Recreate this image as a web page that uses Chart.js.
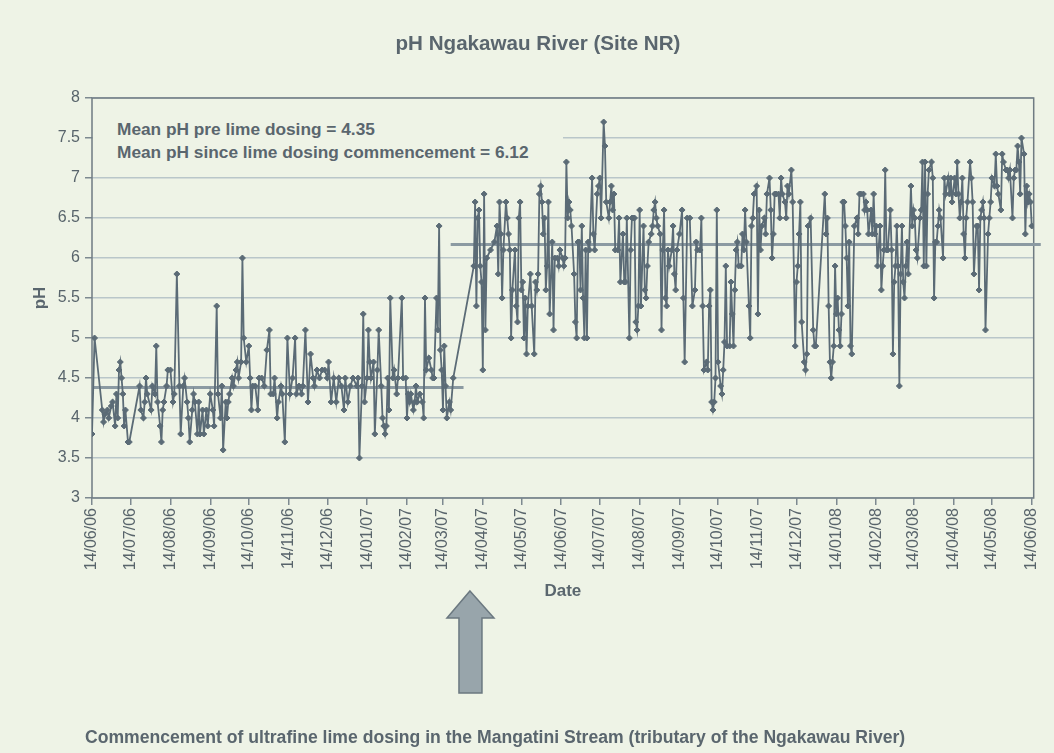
<!DOCTYPE html>
<html>
<head>
<meta charset="utf-8">
<title>pH Ngakawau River (Site NR)</title>
<script src="https://cdn.jsdelivr.net/npm/chart.js@4.4.0/dist/chart.umd.min.js"></script>
<style>
    html, body { margin: 0; padding: 0; background: #eef3e6; }
    #wrap { position: relative; width: 1054px; height: 753px; font-family: "Liberation Sans", Arial, sans-serif; color: #5a666e; }
    #chartBox { position: absolute; left: 0; top: 0; width: 1054px; height: 753px; }
    .title { position: absolute; left: 0; width: 1076px; top: 31px; text-align: center; font-weight: bold; font-size: 20.6px; }
    .means { position: absolute; left: 93px; top: 118px; width: 470px; height: 47px; background: #eef3e6; font-weight: bold; font-size: 17.3px; line-height: 23px; padding-left: 24px; box-sizing: border-box; }
    .caption { position: absolute; left: 85px; top: 727px; font-weight: bold; font-size: 17.6px; }
</style>
</head>
<body>
<div id="wrap">
    <div id="chartBox"><canvas id="phChart"></canvas></div>
    <div class="title">pH Ngakawau River (Site NR)</div>
    <div class="means">Mean pH pre lime dosing = 4.35<br>Mean pH since lime dosing commencement = 6.12</div>
    <div class="caption">Commencement of ultrafine lime dosing in the Mangatini Stream (tributary of the Ngakawau River)</div>
</div>
<script>
// x axis labels (monthly)
const tickLabels = [
    "14/06/06", "14/07/06", "14/08/06", "14/09/06", "14/10/06", "14/11/06", "14/12/06",
    "14/01/07", "14/02/07", "14/03/07", "14/04/07", "14/05/07", "14/06/07", "14/07/07",
    "14/08/07", "14/09/07", "14/10/07", "14/11/07", "14/12/07", "14/01/08", "14/02/08",
    "14/03/08", "14/04/08", "14/05/08", "14/06/08"
];

// sample days (days since 14/06/06) and pH readings, pre lime dosing
const preDays = [
    0, 2, 8, 9, 10, 12, 13, 15, 16, 18,
    19, 20, 21, 22, 23, 24, 25, 26, 28, 29,
    37, 38, 40, 41, 42, 43, 46, 47, 49, 50,
    51, 53, 54, 55, 56, 58, 59, 61, 63, 64,
    66, 68, 69, 71, 72, 74, 75, 76, 78, 79,
    80, 82, 83, 84, 86, 87, 89, 90, 92, 94,
    95, 97, 98, 100, 101, 102, 104, 105, 106, 107,
    109, 110, 112, 113, 114, 116, 117, 118, 120, 122,
    123, 124, 125, 127, 129, 130, 132, 134, 136, 138,
    139, 141, 142, 144, 145, 147, 148, 150, 152, 154,
    156, 158, 159, 161, 163, 164, 166, 168, 170, 172,
    173, 175, 177, 179, 181, 183, 184, 186, 188, 190,
    192, 194, 196, 197, 199, 201, 203, 206, 207, 208,
    210, 211, 212, 214, 215, 216, 217, 219, 220, 222,
    223, 225, 226, 227, 228, 229, 230, 231, 232, 234,
    235, 237, 238, 241, 242, 244, 245, 246, 247, 248,
    250, 251, 252, 253, 255, 257, 258, 259, 260, 262,
    264, 265, 266, 268, 269, 270, 271, 272, 273, 274,
    275, 276, 278, 279, 281
];
const prePH = [
    3.8, 5.0, 4.1, 3.95, 4.05, 4.1, 4.0, 4.15, 4.2, 3.9,
    4.3, 4.0, 4.6, 4.7, 4.5, 4.3, 3.9, 4.1, 3.7, 3.7,
    4.4, 4.1, 4.0, 4.2, 4.5, 4.3, 4.1, 4.4, 4.3, 4.9,
    4.2, 3.9, 3.7, 4.1, 4.2, 4.4, 4.6, 4.6, 4.2, 4.3,
    5.8, 4.4, 3.8, 4.4, 4.5, 4.2, 4.0, 3.7, 4.1, 4.3,
    4.2, 3.8, 4.2, 3.8, 4.1, 3.8, 4.1, 3.9, 4.3, 4.1,
    3.9, 5.4, 4.3, 4.0, 4.4, 3.6, 4.2, 4.0, 4.2, 4.3,
    4.5, 4.4, 4.6, 4.7, 4.5, 4.7, 6.0, 5.0, 4.7, 4.9,
    4.5, 4.1, 4.4, 4.4, 4.1, 4.5, 4.5, 4.4, 4.85, 5.1,
    4.3, 4.3, 4.5, 4.0, 4.2, 4.4, 4.3, 3.7, 5.0, 4.3,
    4.5, 5.0, 4.3, 4.4, 4.3, 4.4, 5.1, 4.2, 4.8, 4.5,
    4.4, 4.6, 4.5, 4.6, 4.6, 4.5, 4.7, 4.2, 4.5, 4.2,
    4.5, 4.4, 4.1, 4.5, 4.2, 4.4, 4.5, 4.4, 4.5, 3.5,
    4.4, 5.3, 4.2, 4.5, 5.1, 4.7, 4.5, 4.7, 3.8, 4.6,
    5.1, 4.4, 4.0, 3.9, 3.8, 3.9, 4.5, 4.1, 5.5, 4.5,
    4.6, 4.3, 4.5, 5.5, 4.5, 4.5, 4.0, 4.3, 4.2, 4.3,
    4.1, 4.2, 4.4, 4.2, 4.3, 4.2, 4.0, 5.5, 4.6, 4.75,
    4.6, 4.5, 4.5, 5.5, 5.1, 6.4, 4.85, 4.6, 4.1, 4.9,
    4.4, 4.0, 4.2, 4.1, 4.5
];

// since lime dosing commenced
const postDays = [
    297, 298, 299, 300, 301, 302, 303, 304, 305, 306,
    307, 310, 313, 315, 316, 317, 318, 319, 320, 322,
    323, 324, 325, 326, 327, 329, 330, 331, 332, 333,
    334, 335, 336, 337, 338, 339, 341, 342, 344, 345,
    346, 347, 348, 349, 350, 351, 352, 353, 354, 355,
    356, 358, 359, 360, 362, 363, 364, 366, 367, 368,
    369, 370, 371, 372, 373, 375, 376, 377, 378, 379,
    380, 381, 382, 383, 384, 385, 386, 387, 389, 390,
    391, 393, 394, 395, 396, 398, 399, 400, 402, 403,
    404, 405, 406, 407, 409, 410, 411, 413, 414, 415,
    416, 418, 419, 420, 421, 422, 423, 424, 425, 426,
    427, 429, 430, 431, 432, 433, 435, 436, 437, 438,
    439, 440, 442, 443, 444, 445, 446, 447, 448, 449,
    451, 452, 453, 454, 455, 457, 459, 460, 461, 463,
    465, 467, 469, 470, 471, 473, 474, 475, 476, 478,
    479, 480, 481, 482, 483, 484, 485, 486, 487, 489,
    490, 491, 492, 493, 494, 496, 497, 498, 499, 500,
    501, 502, 503, 505, 506, 507, 508, 509, 511, 512,
    513, 514, 515, 517, 518, 519, 520, 521, 523, 524,
    525, 527, 528, 529, 530, 531, 532, 534, 535, 536,
    537, 539, 540, 541, 542, 544, 545, 547, 548, 549,
    550, 551, 552, 554, 555, 556, 557, 559, 561, 562,
    563, 570, 571, 572, 573, 574, 575, 576, 577, 578,
    579, 580, 581, 582, 583, 584, 585, 586, 587, 588,
    589, 590, 591, 593, 595, 596, 597, 598, 600, 601,
    602, 603, 604, 606, 607, 608, 609, 610, 611, 613,
    614, 615, 616, 617, 618, 619, 621, 622, 623, 624,
    625, 626, 627, 628, 629, 630, 631, 632, 633, 634,
    635, 637, 638, 639, 640, 641, 642, 644, 645, 646,
    647, 648, 649, 650, 651, 653, 654, 655, 656, 657,
    658, 659, 660, 662, 663, 664, 666, 667, 668, 669,
    671, 672, 673, 674, 675, 676, 677, 678, 679, 680,
    681, 683, 684, 685, 686, 688, 689, 690, 691, 692,
    693, 694, 695, 697, 698, 699, 700, 702, 703, 704,
    705, 707, 708, 709, 711, 712, 713, 714, 716, 717,
    718, 719, 720, 721, 722, 723, 725, 726, 727, 728,
    729, 730, 731
];
const postPH = [
    5.9, 6.7, 5.4, 6.5, 6.6, 5.9, 5.7, 4.6, 6.8, 5.1,
    6.0, 6.1, 6.2, 6.4, 5.8, 6.7, 6.3, 5.5, 6.1, 6.7,
    6.5, 6.3, 6.1, 5.0, 5.6, 6.1, 5.4, 5.2, 6.5, 6.7,
    5.6, 5.7, 5.0, 5.5, 4.8, 5.4, 5.8, 5.4, 4.8, 5.7,
    5.6, 5.8, 6.8, 6.9, 6.7, 6.3, 6.5, 5.6, 5.9, 6.7,
    5.3, 6.2, 5.1, 6.0, 6.0, 5.9, 6.1, 6.0, 5.9, 6.0,
    7.2, 6.5, 6.7, 6.6, 6.4, 5.8, 5.2, 5.0, 6.2, 6.2,
    5.6, 6.4, 5.5, 5.0, 6.1, 5.0, 6.2, 6.1, 7.0, 6.3,
    6.1, 6.8, 6.9, 7.0, 6.5, 7.7, 7.4, 6.7, 6.5, 6.7,
    6.9, 6.6, 6.8, 6.1, 6.1, 6.5, 5.7, 6.3, 5.7, 5.7,
    6.5, 5.0, 6.1, 6.5, 6.5, 6.5, 5.2, 5.1, 5.4, 6.6,
    5.4, 6.4, 5.6, 5.5, 5.9, 6.2, 6.3, 6.4, 6.6, 6.7,
    6.5, 6.4, 6.3, 5.1, 6.1, 6.6, 5.5, 5.4, 6.1, 5.9,
    6.1, 6.4, 5.8, 5.6, 6.1, 6.3, 6.6, 5.5, 4.7, 6.5,
    6.5, 5.4, 5.6, 6.2, 6.1, 6.1, 6.5, 5.4, 4.6, 4.7,
    4.6, 5.4, 5.6, 4.2, 4.1, 4.2, 4.5, 6.6, 4.7, 4.4,
    4.3, 4.6, 4.95, 5.9, 4.9, 4.9, 5.7, 5.3, 4.9, 5.6,
    6.1, 6.2, 5.9, 5.9, 6.3, 6.1, 6.6, 6.2, 5.4, 5.0,
    6.4, 6.5, 6.8, 6.9, 5.3, 6.6, 6.1, 6.4, 6.5, 6.3,
    6.8, 7.0, 6.6, 6.0, 6.3, 6.8, 6.8, 6.8, 6.5, 7.0,
    6.8, 6.7, 6.5, 6.9, 6.8, 7.1, 6.7, 4.9, 5.7, 5.9,
    6.3, 6.7, 5.2, 4.7, 4.6, 4.8, 6.4, 6.5, 5.1, 4.9,
    4.9, 6.8, 6.3, 6.5, 5.4, 4.7, 4.5, 4.7, 4.9, 5.9,
    5.3, 5.5, 5.1, 4.9, 5.3, 6.7, 6.7, 6.4, 6.0, 5.4,
    6.2, 4.9, 4.8, 6.4, 6.5, 6.3, 6.8, 6.8, 6.8, 6.6,
    6.7, 6.6, 6.3, 6.6, 6.3, 6.8, 6.3, 6.4, 5.9, 6.4,
    5.6, 5.9, 6.1, 7.1, 6.1, 6.1, 6.6, 6.1, 4.8, 5.7,
    5.9, 6.4, 5.9, 4.4, 5.8, 6.4, 5.7, 5.5, 5.9, 6.2,
    5.8, 6.9, 6.4, 6.6, 6.5, 6.1, 6.0, 6.5, 6.6, 7.2,
    5.9, 7.2, 5.9, 6.8, 7.1, 7.2, 7.0, 5.5, 6.2, 6.2,
    6.4, 6.6, 6.5, 6.0, 7.0, 6.8, 7.0, 6.8, 7.0, 6.7,
    7.0, 6.8, 7.2, 6.8, 6.5, 6.7, 7.0, 6.3, 6.0, 6.5,
    6.7, 7.2, 7.0, 6.7, 5.8, 6.4, 6.4, 5.6, 6.5, 6.6,
    6.7, 6.5, 5.1, 6.3, 6.5, 6.7, 7.0, 6.9, 7.3, 6.9,
    6.8, 6.6, 7.3, 7.2, 7.1, 7.1, 7.0, 7.1, 6.5, 7.0,
    7.1, 7.1, 7.4, 7.2, 6.8, 7.5, 7.3, 6.3, 6.9, 6.7,
    6.8, 6.7, 6.4
];

// mean lines as drawn on the original (level, start day, end day)
const preMean = [4.38, 0, 289];
const postMean = [6.17, 279, 738];
const dosingStartDay = 294;

const lineColor = "#5b6b76";

function dayOffset(label) {
    const [d, m, y] = label.split("/").map(Number);
    return Math.round((Date.UTC(2000 + y, m - 1, d) - Date.UTC(2006, 5, 14)) / 86400000);
}
const tickDays = tickLabels.map(dayOffset);

const sampleDays = preDays.concat(postDays);
const phValues = prePH.concat(postPH);

// box round the plot area
const plotBox = {
    id: "plotBox",
    beforeDatasetsDraw(chart) {
        const { ctx, chartArea } = chart;
        ctx.save();
        ctx.strokeStyle = "#6f7b82";
        ctx.lineWidth = 1.5;
        ctx.strokeRect(chartArea.left, chartArea.top, chartArea.right - chartArea.left, chartArea.bottom - chartArea.top);
        ctx.restore();
    }
};

// big arrow under the axis pointing at the start of dosing
const dosingArrow = {
    id: "dosingArrow",
    afterDraw(chart) {
        const ctx = chart.ctx;
        const cx = chart.scales.x.getPixelForValue(dosingStartDay);
        ctx.save();
        ctx.beginPath();
        ctx.moveTo(cx, 591);
        ctx.lineTo(cx + 24, 618);
        ctx.lineTo(cx + 12, 618);
        ctx.lineTo(cx + 12, 693);
        ctx.lineTo(cx - 11, 693);
        ctx.lineTo(cx - 11, 618);
        ctx.lineTo(cx - 23, 618);
        ctx.closePath();
        ctx.fillStyle = "#98a5ab";
        ctx.fill();
        ctx.strokeStyle = "#6b7880";
        ctx.lineWidth = 1.5;
        ctx.stroke();
        ctx.restore();
    }
};

document.addEventListener("DOMContentLoaded", () => {
    const ctx = document.getElementById("phChart").getContext("2d");
    new Chart(ctx, {
        type: "line",
        data: {
            datasets: [
                {
                    label: "pH",
                    data: sampleDays.map((d, i) => ({ x: d, y: phValues[i] })),
                    borderColor: lineColor,
                    backgroundColor: lineColor,
                    borderWidth: 1.8,
                    pointStyle: "rectRot",
                    pointRadius: 3,
                    pointBorderWidth: 1,
                    tension: 0,
                    order: 1
                },
                {
                    label: "Mean pre",
                    data: [{ x: preMean[1], y: preMean[0] }, { x: preMean[2], y: preMean[0] }],
                    borderColor: "#8b9aa2",
                    borderWidth: 3,
                    pointRadius: 0,
                    order: 2
                },
                {
                    label: "Mean post",
                    data: [{ x: postMean[1], y: postMean[0] }, { x: postMean[2], y: postMean[0] }],
                    borderColor: "#8b9aa2",
                    borderWidth: 3,
                    pointRadius: 0,
                    clip: false,
                    order: 2
                }
            ]
        },
        options: {
            responsive: true,
            maintainAspectRatio: false,
            animation: false,
            layout: { padding: { top: 98, right: 14, left: 0, bottom: 0 } },
            plugins: {
                legend: { display: false },
                tooltip: { enabled: false }
            },
            scales: {
                x: {
                    type: "linear",
                    min: 0,
                    max: 732.5,
                    afterBuildTicks: (scale) => {
                        scale.ticks = tickDays.map(v => ({ value: v }));
                    },
                    afterFit: (scale) => { scale.height = 255; },
                    ticks: {
                        autoSkip: false,
                        maxRotation: 90,
                        minRotation: 90,
                        padding: 3,
                        color: "#58646b",
                        font: { family: "Liberation Sans", size: 16 },
                        callback: (v, i) => tickLabels[i]
                    },
                    grid: { drawOnChartArea: false, tickLength: 7, tickColor: "#7d8990", lineWidth: 1.5 },
                    border: { display: false },
                    title: {
                        display: true,
                        text: "Date",
                        color: "#5a666e",
                        font: { family: "Liberation Sans", size: 17, weight: "bold" },
                        padding: { top: 0, bottom: 151 }
                    }
                },
                y: {
                    min: 3,
                    max: 8,
                    afterFit: (scale) => { scale.width = 92; },
                    ticks: {
                        stepSize: 0.5,
                        padding: 5,
                        color: "#58646b",
                        font: { family: "Liberation Sans", size: 16 },
                        callback: v => String(v)
                    },
                    grid: { color: "#b9c6c9", lineWidth: 1.5, tickLength: 7, tickColor: "#7d8990" },
                    border: { display: false },
                    title: {
                        display: true,
                        text: "pH",
                        color: "#5a666e",
                        font: { family: "Liberation Sans", size: 17, weight: "bold" },
                        padding: { top: 30, bottom: 0 }
                    }
                }
            }
        },
        plugins: [plotBox, dosingArrow]
    });
});
</script>
</body>
</html>
